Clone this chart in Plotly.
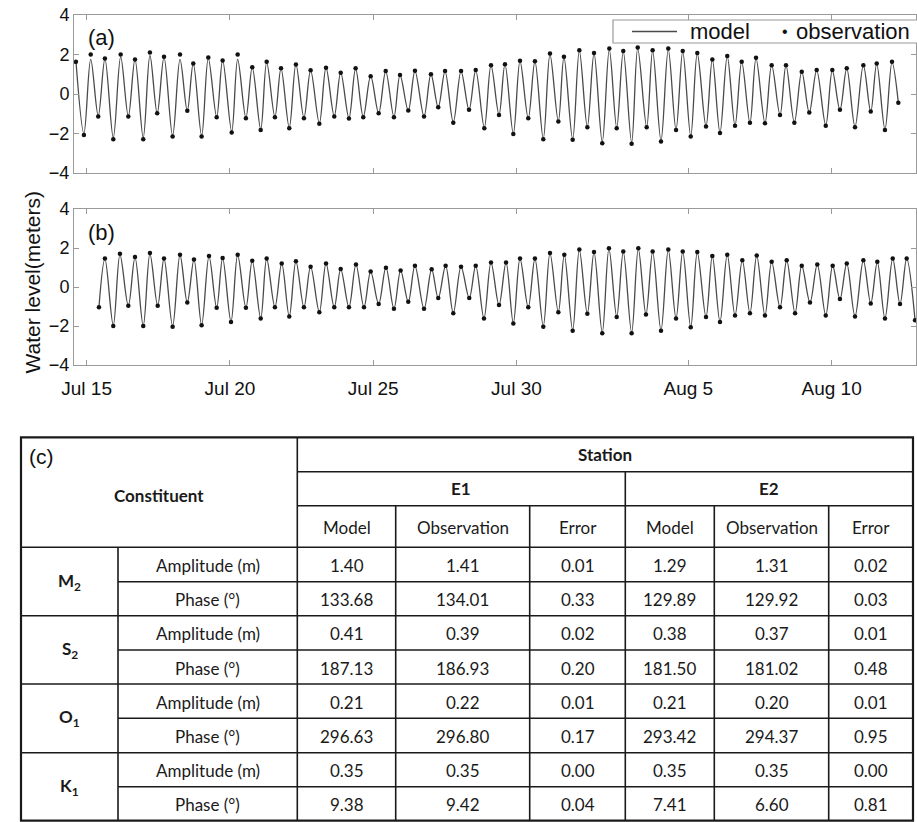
import pandas as pd
import plotly.graph_objects as go

# ---------------- data: tidal extremes ----------------
# hours after Jul 15 00:00 of each high / low water, and the level (m)
a_hours = [-9.0, -2.3, 3.4, 9.7, 15.3, 22.3, 28.5, 34.9, 40.5, 47.4, 53.0, 59.1, 64.8, 72.0,
           78.2, 84.3, 89.3, 96.3, 101.9, 108.9, 113.9, 121.5, 126.5, 133.4, 138.7, 145.8,
           150.8, 157.7, 162.8, 169.7, 175.3, 182.0, 187.6, 194.9, 200.5, 207.4, 212.8, 219.7,
           225.3, 231.7, 237.9, 244.6, 250.5, 257.4, 262.5, 269.4, 275.0, 282.6, 288.4, 294.5,
           300.2, 307.1, 313.6, 320.3, 325.9, 333.1, 338.7, 345.4, 350.4, 357.4, 363.0, 369.9,
           375.5, 382.5, 388.1, 395.1, 399.8, 407.1, 412.7, 419.4, 425.0, 431.9, 437.8, 444.0,
           449.5, 456.5, 461.6, 469.1, 474.1, 481.1, 487.2, 493.7, 499.3, 506.0, 511.5, 518.8,
           524.1, 530.5, 536.6, 543.1, 548.7, 555.6, 560.7, 568.2, 573.8, 580.8, 585.8, 592.8,
           599.0, 605.3, 611.5, 619.1, 624.6, 631.0, 636.7, 643.6, 650.6, 656.8, 661.8, 668.7,
           674.6, 679.9]
a_obs = [1.63, -2.07, 2.00, -1.14, 1.80, -2.29, 2.00, -1.14, 1.75, -2.29, 2.10, -0.97, 1.88, -2.15,
         2.00, -0.85, 1.55, -2.15, 1.85, -1.18, 1.70, -1.95, 2.00, -1.23, 1.35, -1.82,
         1.63, -1.18, 1.30, -1.73, 1.50, -1.23, 1.20, -1.50, 1.33, -1.14, 1.08, -1.24,
         1.30, -1.18, 0.90, -0.97, 1.16, -1.18, 0.96, -0.84, 1.18, -1.14, 1.00, -0.67,
         1.16, -1.45, 1.16, -0.80, 1.21, -1.73, 1.46, -1.06, 1.51, -2.03, 1.68, -1.23,
         1.66, -2.29, 2.05, -1.39, 1.88, -2.32, 2.22, -1.68, 2.08, -2.49, 2.30, -1.73,
         2.18, -2.52, 2.35, -1.68, 2.22, -2.40, 2.30, -1.82, 2.18, -2.15, 2.08, -1.65,
         1.75, -1.98, 1.92, -1.61, 1.63, -1.45, 1.83, -1.48, 1.46, -1.06, 1.46, -1.45,
         1.13, -0.94, 1.21, -1.61, 1.21, -0.80, 1.30, -1.68, 1.46, -0.89, 1.55, -1.82,
         1.63, -0.44]
a_model = [1.70, -2.00, 1.75, -1.10, 1.78, -2.20, 1.88, -1.12, 1.75, -2.20, 1.95, -0.97, 1.85, -2.10,
           1.75, -0.85, 1.55, -2.10, 1.80, -1.15, 1.70, -1.90, 1.75, -1.20, 1.35, -1.78,
           1.60, -1.15, 1.30, -1.70, 1.50, -1.20, 1.20, -1.48, 1.33, -1.12, 1.08, -1.22,
           1.28, -1.15, 0.90, -0.97, 1.15, -1.15, 0.96, -0.84, 1.16, -1.12, 1.00, -0.67,
           1.15, -1.42, 1.15, -0.80, 1.20, -1.70, 1.45, -1.05, 1.50, -2.00, 1.66, -1.22,
           1.65, -2.25, 2.00, -1.38, 1.86, -2.28, 2.18, -1.66, 2.05, -2.42, 2.25, -1.70,
           2.15, -2.45, 2.30, -1.66, 2.18, -2.35, 2.25, -1.80, 2.15, -2.12, 2.05, -1.63,
           1.75, -1.95, 1.90, -1.60, 1.63, -1.45, 1.80, -1.46, 1.46, -1.06, 1.45, -1.43,
           1.13, -0.94, 1.20, -1.58, 1.20, -0.80, 1.30, -1.65, 1.45, -0.89, 1.53, -1.78,
           1.60, -0.44]

b_hours = [10.3, 15.3, 22.3, 27.9, 34.9, 40.5, 47.4, 53.0, 59.5, 64.8, 72.0, 78.2, 84.3, 89.9,
           96.3, 102.5, 108.9, 113.9, 120.9, 126.5, 133.4, 138.7, 145.8, 150.8, 157.7, 163.4,
           169.7, 175.3, 182.0, 187.6, 194.9, 200.5, 207.4, 212.8, 219.7, 225.6, 232.3, 237.9,
           244.6, 250.7, 257.4, 263.0, 269.4, 275.0, 282.6, 289.0, 294.5, 300.7, 307.1, 313.6,
           320.5, 325.9, 332.8, 338.7, 345.4, 351.3, 357.4, 363.0, 369.9, 375.5, 382.5, 388.1,
           395.1, 400.1, 407.1, 412.7, 419.4, 425.0, 431.9, 437.5, 444.0, 449.5, 456.5, 462.1,
           468.5, 474.1, 481.1, 487.2, 493.7, 499.3, 506.0, 511.5, 518.8, 524.1, 530.5, 536.6,
           543.1, 549.2, 555.6, 561.3, 568.2, 573.8, 580.8, 586.4, 593.4, 599.0, 605.9, 612.0,
           619.1, 624.9, 631.0, 636.7, 643.6, 650.6, 656.8, 662.3, 668.7, 675.2, 681.3, 686.9,
           693.9]
b_obs = [-1.04, 1.46, -2.00, 1.70, -0.96, 1.54, -2.00, 1.74, -0.96, 1.46, -2.04, 1.66, -0.79, 1.41,
         -1.96, 1.59, -1.07, 1.49, -1.79, 1.66, -1.07, 1.34, -1.62, 1.46, -1.04, 1.21,
         -1.51, 1.32, -1.04, 1.04, -1.29, 1.21, -1.04, 0.92, -1.04, 1.16, -1.04, 0.79,
         -0.87, 0.99, -1.12, 0.84, -0.76, 1.09, -1.12, 0.91, -0.57, 1.09, -1.34, 1.04,
         -0.57, 1.09, -1.62, 1.26, -0.92, 1.26, -1.87, 1.46, -1.04, 1.46, -2.04, 1.74,
         -1.29, 1.66, -2.24, 1.92, -1.37, 1.79, -2.37, 1.99, -1.54, 1.82, -2.37, 1.99,
         -1.41, 1.82, -2.24, 1.92, -1.62, 1.82, -2.07, 1.79, -1.54, 1.59, -1.79, 1.66,
         -1.46, 1.37, -1.34, 1.62, -1.46, 1.29, -1.04, 1.37, -1.34, 1.09, -0.79, 1.16,
         -1.46, 1.09, -0.62, 1.21, -1.51, 1.37, -0.84, 1.29, -1.62, 1.46, -0.87, 1.46,
         -1.71]
b_model = [-1.04, 1.44, -1.96, 1.66, -0.96, 1.52, -1.98, 1.70, -0.96, 1.45, -2.00, 1.64, -0.79, 1.40,
           -1.94, 1.57, -1.06, 1.48, -1.77, 1.64, -1.06, 1.34, -1.60, 1.45, -1.03, 1.21,
           -1.50, 1.31, -1.03, 1.04, -1.28, 1.20, -1.03, 0.92, -1.03, 1.15, -1.03, 0.79,
           -0.87, 0.99, -1.11, 0.84, -0.76, 1.08, -1.11, 0.91, -0.57, 1.08, -1.33, 1.03,
           -0.57, 1.08, -1.60, 1.25, -0.92, 1.25, -1.85, 1.45, -1.04, 1.45, -2.00, 1.72,
           -1.28, 1.65, -2.20, 1.90, -1.36, 1.78, -2.33, 1.96, -1.52, 1.80, -2.33, 1.96,
           -1.40, 1.80, -2.21, 1.90, -1.60, 1.80, -2.05, 1.77, -1.53, 1.58, -1.77, 1.65,
           -1.45, 1.37, -1.33, 1.60, -1.45, 1.29, -1.04, 1.36, -1.33, 1.09, -0.79, 1.15,
           -1.45, 1.09, -0.62, 1.20, -1.50, 1.36, -0.84, 1.28, -1.60, 1.45, -0.87, 1.45,
           -1.70]

start_date = "2014-07-15"
x_range_hours = [-10.6, 694.7]
tick_dates = ["2014-07-15", "2014-07-20", "2014-07-25", "2014-07-30", "2014-08-05", "2014-08-10"]
tick_labels = ["Jul 15", "Jul 20", "Jul 25", "Jul 30", "Aug 5", "Aug 10"]
y_ticks = [-4, -2, 0, 2, 4]
legend_names = ["model", "observation"]

# ---------------- table data ----------------
constituents = ["M<sub>2</sub>", "S<sub>2</sub>", "O<sub>1</sub>", "K<sub>1</sub>"]
quantities = ["Amplitude (m)", "Phase (°)"]
e1_model = [1.40, 133.68, 0.41, 187.13, 0.21, 296.63, 0.35, 9.38]
e1_obs = [1.41, 134.01, 0.39, 186.93, 0.22, 296.80, 0.35, 9.42]
e1_err = [0.01, 0.33, 0.02, 0.20, 0.01, 0.17, 0.00, 0.04]
e2_model = [1.29, 129.89, 0.38, 181.50, 0.21, 293.42, 0.35, 7.41]
e2_obs = [1.31, 129.92, 0.37, 181.02, 0.20, 294.37, 0.35, 6.60]
e2_err = [0.02, 0.03, 0.01, 0.48, 0.01, 0.95, 0.00, 0.81]
stations = ["E1", "E2"]
sub_headers = ["Model", "Observation", "Error"]

# ---------------- figure ----------------
W, H = 917, 822
base = pd.Timestamp(start_date)


def to_time(hours):
    return base + pd.to_timedelta(hours, unit="h")


fig = go.Figure()
LINE_C = "#4a4a4a"
DOT_C = "#111111"

for hours, model, obs, xa, ya in [(a_hours, a_model, a_obs, "x", "y"),
                                  (b_hours, b_model, b_obs, "x2", "y2")]:
    t = to_time(hours)
    fig.add_trace(go.Scatter(x=t, y=model, mode="lines", name=legend_names[0],
                             line=dict(color=LINE_C, width=1.3, shape="spline", smoothing=1.0),
                             xaxis=xa, yaxis=ya, showlegend=False, hoverinfo="skip"))
    fig.add_trace(go.Scatter(x=t, y=obs, mode="markers", name=legend_names[1],
                             marker=dict(color=DOT_C, size=4.5),
                             xaxis=xa, yaxis=ya, showlegend=False, hoverinfo="skip"))

AX_C = "#9a9a9a"
FONT = "Liberation Sans, Arial, sans-serif"
x0, x1 = to_time(x_range_hours[0]), to_time(x_range_hours[1])
common_x = dict(type="date", range=[x0, x1], tickvals=pd.to_datetime(tick_dates), ticktext=tick_labels,
                ticks="inside", ticklen=5, tickcolor=AX_C, showline=True, linecolor=AX_C, linewidth=1,
                mirror="ticks", showgrid=False, zeroline=False, automargin=False,
                tickfont=dict(family=FONT, size=19, color="#111"))
common_y = dict(range=[-4, 4], tickvals=y_ticks, ticks="inside", ticklen=5, tickcolor=AX_C,
                showline=True, linecolor=AX_C, linewidth=1, mirror="ticks", showgrid=False,
                zeroline=False, automargin=False, tickfont=dict(family=FONT, size=18, color="#111"))


def px_x(p):
    return p / W


def px_y(p):
    return 1 - p / H


fig.update_layout(
    width=W, height=H, margin=dict(l=0, r=0, t=0, b=0, pad=0, autoexpand=False),
    paper_bgcolor="white", plot_bgcolor="rgba(0,0,0,0)",
    xaxis=dict(common_x, domain=[px_x(74), px_x(916)], anchor="y", showticklabels=False),
    yaxis=dict(common_y, domain=[px_y(173), px_y(15)], anchor="x"),
    xaxis2=dict(common_x, domain=[px_x(74), px_x(916)], anchor="y2", ticklabelstandoff=6),
    yaxis2=dict(common_y, domain=[px_y(365), px_y(209)], anchor="x2"),
    xaxis3=dict(domain=[0, 1], range=[0, W], visible=False, anchor="y3", fixedrange=True),
    yaxis3=dict(domain=[0, 1], range=[H, 0], visible=False, anchor="x3", fixedrange=True),
    showlegend=False,
    font=dict(family=FONT, color="#111"),
)

ann = []
shapes = []
ann.append(dict(text="Water level(meters)", x=px_x(18), y=px_y(190), xref="paper", yref="paper",
                textangle=-90, showarrow=False, font=dict(family=FONT, size=21, color="#111")))
ann.append(dict(text="(a)", x=px_x(86), y=px_y(37), xref="paper", yref="paper", xanchor="left",
                yanchor="middle", showarrow=False, font=dict(family=FONT, size=22, color="#111")))
ann.append(dict(text="(b)", x=px_x(86), y=px_y(232), xref="paper", yref="paper", xanchor="left",
                yanchor="middle", showarrow=False, font=dict(family=FONT, size=22, color="#111")))

# ---------------- legend (box, line sample, dot, labels) on the hidden x3/y3 pair ----------------
shapes.append(dict(type="rect", xref="x3", yref="y3", x0=613, x1=930, y0=20, y1=43,
                   fillcolor="white", line=dict(color=AX_C, width=1.2), layer="above"))
shapes.append(dict(type="line", xref="x3", yref="y3", x0=632, x1=677, y0=31.5, y1=31.5,
                   line=dict(color=LINE_C, width=1.4), layer="above"))
ann.append(dict(text=legend_names[0], x=688, y=31.5, xref="x3", yref="y3", xanchor="left",
                yanchor="middle", showarrow=False, font=dict(family=FONT, size=22, color="#111")))
ann.append(dict(text="•", x=780, y=31.5, xref="x3", yref="y3", xanchor="left",
                yanchor="middle", showarrow=False, font=dict(family=FONT, size=16, color="#111")))
ann.append(dict(text=legend_names[1], x=794, y=31.5, xref="x3", yref="y3", xanchor="left",
                yanchor="middle", showarrow=False, font=dict(family=FONT, size=22, color="#111")))

# ---------------- table (drawn on a hidden x3/y3 axis pair) ----------------
col_edges = [21, 118, 297.3, 395.7, 529.7, 625.3, 714.3, 828.7, 913]
row_edges = [437.3, 471.7, 505.7, 547.3, 581.7, 615.7, 650, 684, 718.3, 752.7, 786.7, 820.7]
TFONT = "Lato, Noto Sans, sans-serif"
TC = "#1a1a1a"


def hline(y, xa, xb, w=1.6):
    shapes.append(dict(type="line", xref="x3", yref="y3", x0=xa, x1=xb, y0=y, y1=y,
                       line=dict(color=TC, width=w)))


def vline(x, ya, yb, w=1.6):
    shapes.append(dict(type="line", xref="x3", yref="y3", x0=x, x1=x, y0=ya, y1=yb,
                       line=dict(color=TC, width=w)))


def txt(s, x, y, size=17, bold=False, anchor="center"):
    ann.append(dict(text=f"<b>{s}</b>" if bold else s, x=x, y=y, xref="x3", yref="y3",
                    xanchor=anchor, yanchor="middle", showarrow=False,
                    font=dict(family=TFONT, size=size, color=TC)))


top, bot = row_edges[0], row_edges[-1]
left, right = col_edges[0], col_edges[-1]
shapes.append(dict(type="rect", xref="x3", yref="y3", x0=left, x1=right, y0=top, y1=bot,
                   line=dict(color=TC, width=2.2)))
hline(row_edges[1], col_edges[2], right)
hline(row_edges[2], col_edges[2], right)
hline(row_edges[3], left, right)
for i in range(4, len(row_edges) - 1):
    hline(row_edges[i], left if (i - 3) % 2 == 0 else col_edges[1], right)
vline(col_edges[1], row_edges[3], bot)
vline(col_edges[2], top, bot)
vline(col_edges[5], row_edges[1], bot)
for c in (3, 4, 6, 7):
    vline(col_edges[c], row_edges[2], bot)


def mid(a, b):
    return (a + b) / 2


ann.append(dict(text="(c)", x=27, y=456.5, xref="x3", yref="y3", xanchor="left", yanchor="middle",
                showarrow=False, font=dict(family=FONT, size=21, color="#111")))
txt("Constituent", mid(left, col_edges[2]), 495, bold=True, size=17)
txt("Station", mid(col_edges[2], right), mid(row_edges[0], row_edges[1]), bold=True, size=17)
txt(stations[0], mid(col_edges[2], col_edges[5]), mid(row_edges[1], row_edges[2]), bold=True, size=17)
txt(stations[1], mid(col_edges[5], right), mid(row_edges[1], row_edges[2]), bold=True, size=17)
for k, h in enumerate(sub_headers * 2):
    txt(h, mid(col_edges[2 + k], col_edges[3 + k]), mid(row_edges[2], row_edges[3]) + 1)

columns = [e1_model, e1_obs, e1_err, e2_model, e2_obs, e2_err]
for r in range(8):
    yc = mid(row_edges[3 + r], row_edges[4 + r]) + 1
    txt(quantities[r % 2], mid(col_edges[1], col_edges[2]), yc)
    for k, col in enumerate(columns):
        txt(f"{col[r]:.2f}", mid(col_edges[2 + k], col_edges[3 + k]), yc)
for i, c in enumerate(constituents):
    txt(c, mid(left, col_edges[1]), row_edges[3 + 2 * i + 1], bold=True, size=17)

fig.update_layout(annotations=ann, shapes=shapes)
fig.write_html("out.html", config={"displayModeBar": False},
               post_script="document.body.style.margin='0';")
